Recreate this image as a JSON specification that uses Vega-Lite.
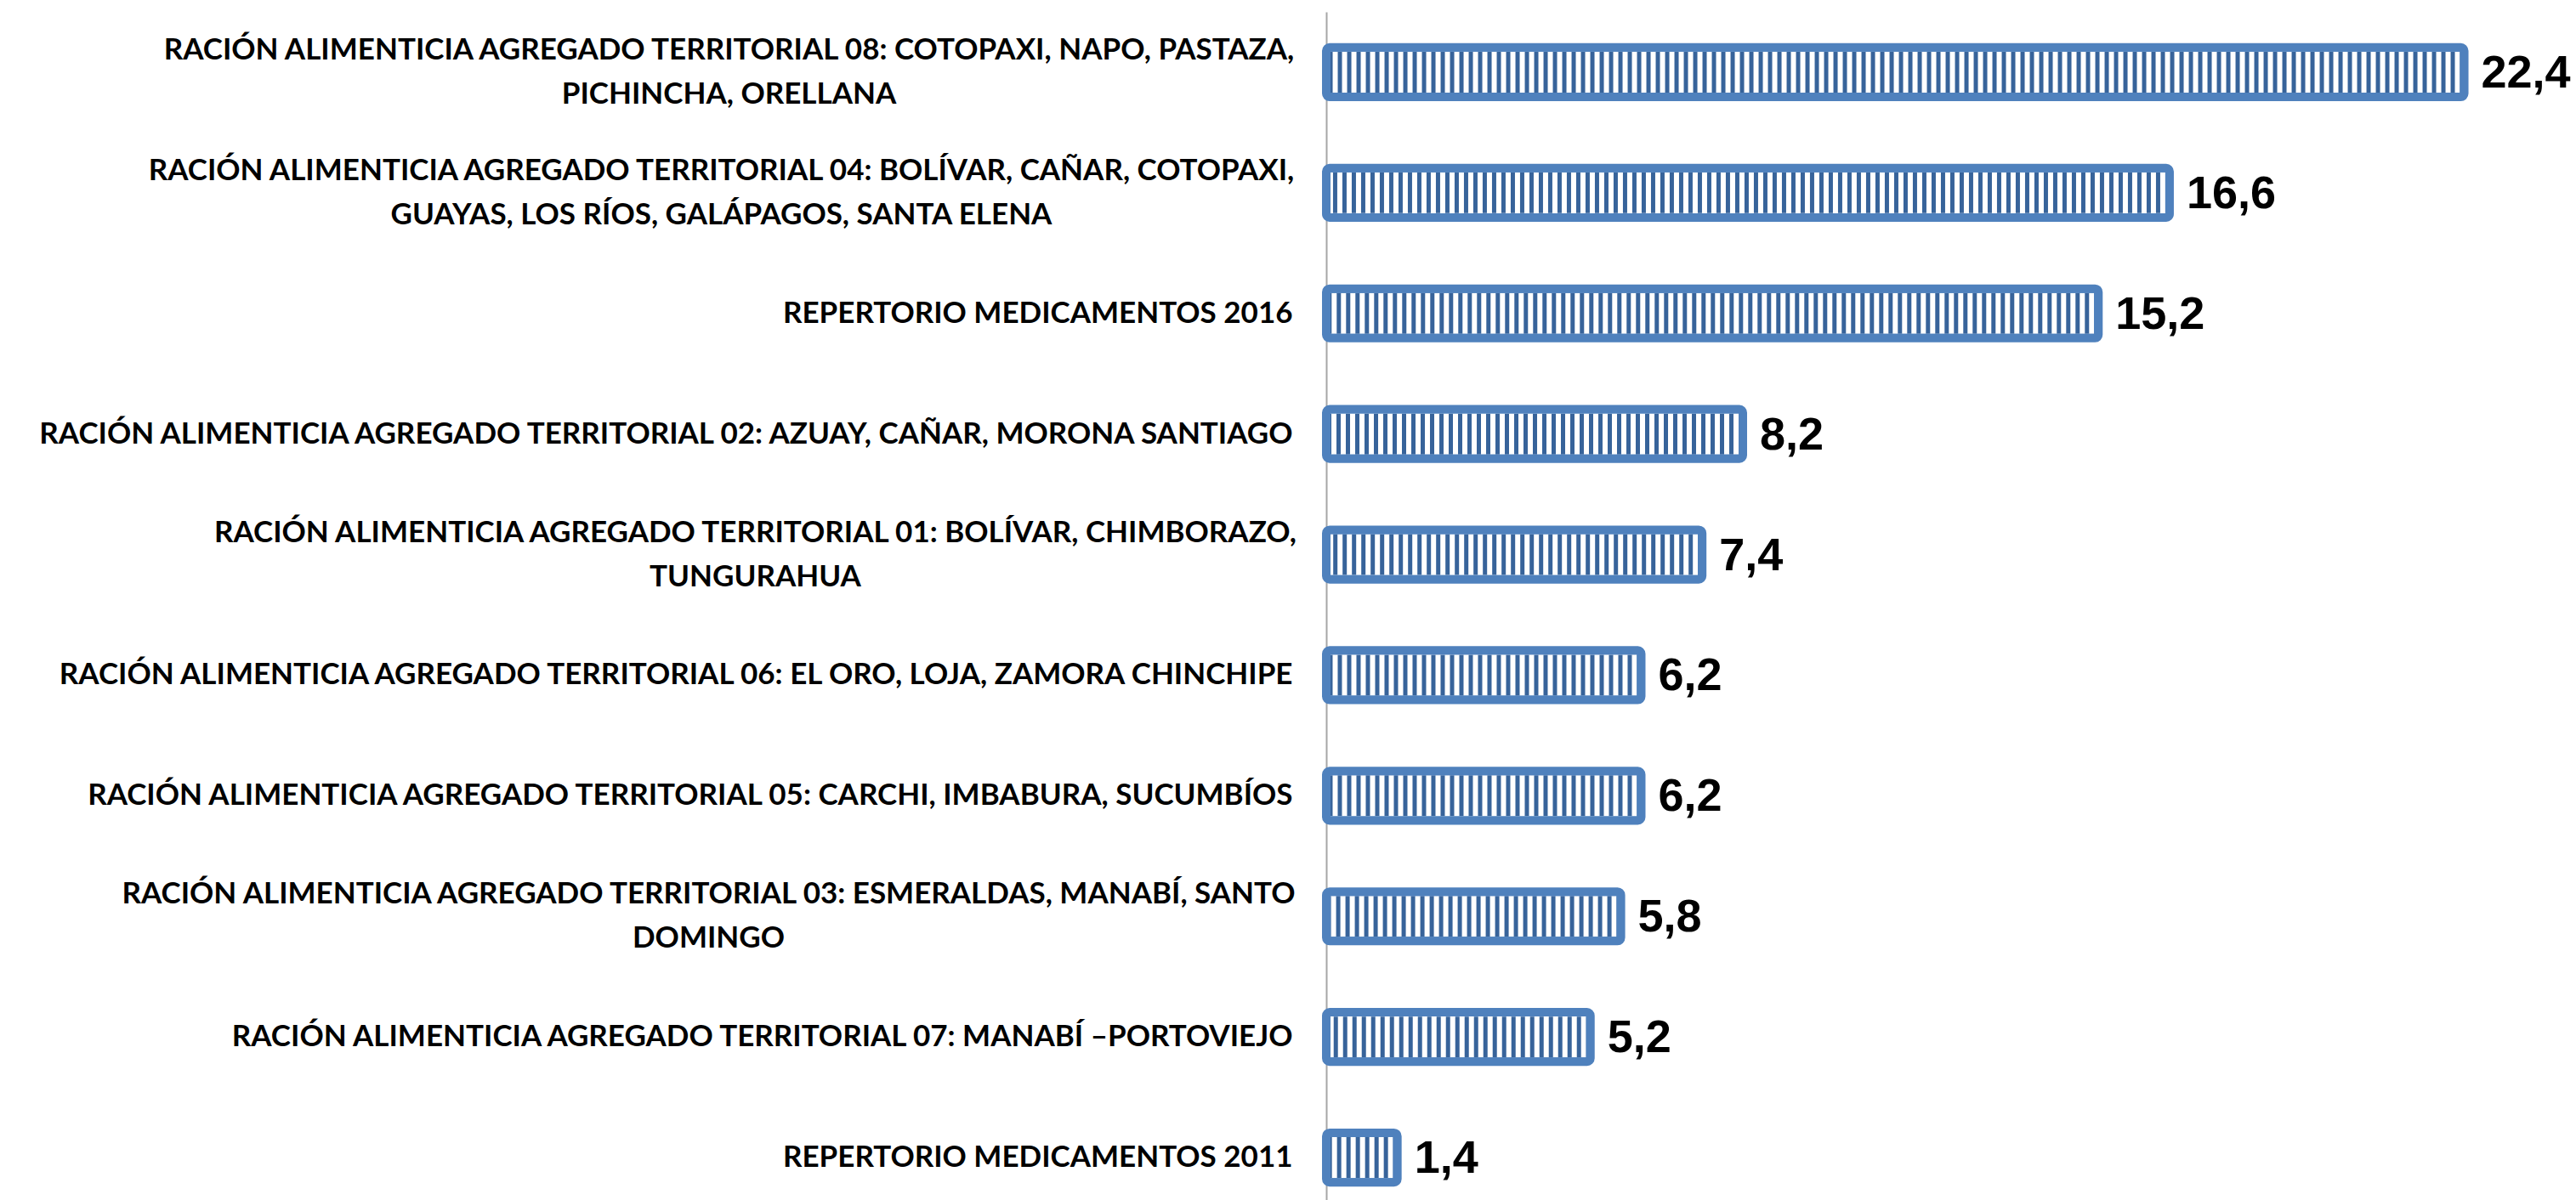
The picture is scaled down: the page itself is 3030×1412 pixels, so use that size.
{
  "$schema": "https://vega.github.io/schema/vega-lite/v6.json",
  "width": 1470,
  "height": 1419,
  "autosize": {"type": "none"},
  "padding": {"left": 1560, "top": 14, "right": 0, "bottom": 0},
  "background": "white",
  "config": {
    "view": {"stroke": null},
    "locale": {"number": {"decimal": ",", "thousands": ".", "grouping": [3], "currency": ["", " €"]}}
  },
  "data": {
    "values": [
      {"categoria": "RACIÓN ALIMENTICIA AGREGADO TERRITORIAL 08: COTOPAXI, NAPO, PASTAZA,|PICHINCHA, ORELLANA", "valor": 22.4},
      {"categoria": "RACIÓN ALIMENTICIA AGREGADO TERRITORIAL 04: BOLÍVAR, CAÑAR, COTOPAXI,|GUAYAS, LOS RÍOS, GALÁPAGOS, SANTA ELENA", "valor": 16.6},
      {"categoria": "REPERTORIO MEDICAMENTOS 2016", "valor": 15.2},
      {"categoria": "RACIÓN ALIMENTICIA AGREGADO TERRITORIAL 02: AZUAY, CAÑAR, MORONA SANTIAGO", "valor": 8.2},
      {"categoria": "RACIÓN ALIMENTICIA AGREGADO TERRITORIAL 01: BOLÍVAR, CHIMBORAZO,|TUNGURAHUA", "valor": 7.4},
      {"categoria": "RACIÓN ALIMENTICIA AGREGADO TERRITORIAL 06: EL ORO, LOJA, ZAMORA CHINCHIPE", "valor": 6.2},
      {"categoria": "RACIÓN ALIMENTICIA AGREGADO TERRITORIAL 05: CARCHI, IMBABURA, SUCUMBÍOS", "valor": 6.2},
      {"categoria": "RACIÓN ALIMENTICIA AGREGADO TERRITORIAL 03: ESMERALDAS, MANABÍ, SANTO|DOMINGO", "valor": 5.8},
      {"categoria": "RACIÓN ALIMENTICIA AGREGADO TERRITORIAL 07: MANABÍ –PORTOVIEJO", "valor": 5.2},
      {"categoria": "REPERTORIO MEDICAMENTOS 2011", "valor": 1.4}
    ]
  },
  "encoding": {
    "y": {
      "field": "categoria",
      "type": "nominal",
      "sort": null,
      "scale": {"paddingInner": 0.59, "paddingOuter": 0.295},
      "axis": {
        "title": null,
        "domain": true,
        "domainColor": "#A6A6A6",
        "domainWidth": 2,
        "ticks": false,
        "tickSize": 0,
        "labelFont": "Lato",
        "labelFontWeight": "bold",
        "labelFontSize": 35,
        "labelColor": "black",
        "labelLimit": 3000,
        "labelLineHeight": 52,
        "labelExpr": "split(datum.label, '|')",
        "labelAlign": {"condition": {"test": "indexof(datum.value, '|') >= 0", "value": "center"}, "value": "right"},
        "labelOffset": {"condition": {"test": "indexof(datum.value, '|') >= 0", "value": -26}, "value": 0},
        "labelPadding": {
          "condition": [
            {"test": "indexof(datum.value, '08:') >= 0", "value": 703},
            {"test": "indexof(datum.value, '04:') >= 0", "value": 712},
            {"test": "indexof(datum.value, '01:') >= 0", "value": 672},
            {"test": "indexof(datum.value, '03:') >= 0", "value": 727}
          ],
          "value": 40
        }
      }
    },
    "x": {"field": "valor", "type": "quantitative", "scale": {"domain": [0, 24.6], "nice": false}, "axis": null}
  },
  "layer": [
    {
      "mark": {"type": "bar", "fill": "white", "strokeWidth": 0}
    },
    {
      "mark": {"type": "rule", "strokeWidth": 48, "strokeDash": [5, 6], "color": "#37639A"},
      "encoding": {
        "x2": {"datum": 0}
      }
    },
    {
      "mark": {"type": "bar", "fillOpacity": 0, "fill": "white", "stroke": "#4F81BD", "strokeWidth": 10, "cornerRadius": 4}
    },
    {
      "mark": {"type": "text", "align": "left", "baseline": "middle", "dx": 20, "dy": 2, "font": "Liberation Sans", "fontWeight": "bold", "fontSize": 54, "color": "black"},
      "encoding": {
        "text": {"field": "valor", "type": "quantitative", "format": ".1f"}
      }
    }
  ]
}
